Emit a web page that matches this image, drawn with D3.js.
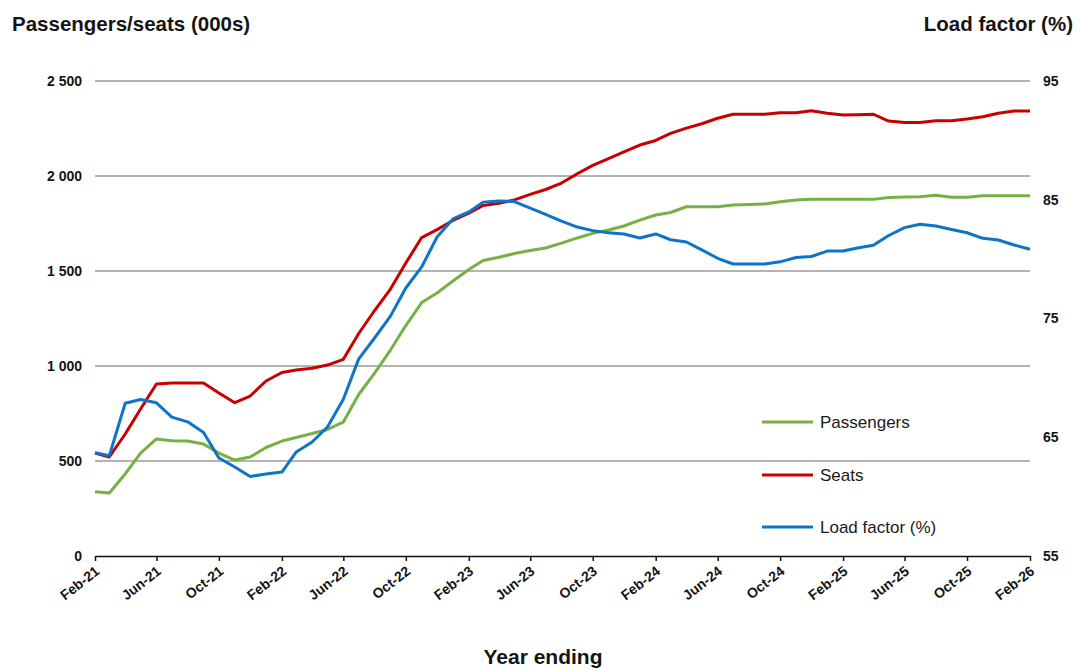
<!DOCTYPE html>
<html>
<head>
<meta charset="utf-8">
<script src="https://cdn.jsdelivr.net/npm/d3@7"></script>
<style>
  body { margin: 0; background: #fff; }
  svg { display: block; font-family: "Liberation Sans", Arial, sans-serif; }
</style>
</head>
<body>
<script>
'use strict';

// monthly, year ending Feb-21 .. Feb-26
let tickLabels = ['Feb-21', 'Jun-21', 'Oct-21', 'Feb-22', 'Jun-22', 'Oct-22', 'Feb-23', 'Jun-23',
    'Oct-23', 'Feb-24', 'Jun-24', 'Oct-24', 'Feb-25', 'Jun-25', 'Oct-25', 'Feb-26'];

let passengers = [338, 332, 432, 542, 616, 607, 605, 589, 542, 505, 521, 571, 605, 624, 645, 666,
    705, 850, 963, 1084, 1213, 1334, 1384, 1447, 1508, 1555, 1572, 1592, 1608, 1621, 1647, 1674,
    1698, 1716, 1737, 1768, 1795, 1808, 1838, 1838, 1838, 1847, 1850, 1853, 1864, 1874, 1877, 1877,
    1877, 1877, 1877, 1887, 1889, 1891, 1899, 1888, 1888, 1896, 1896, 1896, 1896];

let seats = [542, 521, 642, 774, 905, 910, 910, 910, 858, 807, 842, 921, 966, 979, 988, 1005,
    1035, 1171, 1292, 1405, 1542, 1676, 1718, 1766, 1805, 1845, 1856, 1874, 1903, 1929, 1963, 2012,
    2056, 2092, 2127, 2163, 2187, 2224, 2252, 2275, 2304, 2325, 2325, 2325, 2333, 2333, 2343, 2330,
    2321, 2323, 2325, 2289, 2281, 2281, 2291, 2291, 2300, 2312, 2330, 2342, 2342];

let loadFactor = [63.7, 63.45, 67.86, 68.18, 67.9, 66.7, 66.3, 65.4, 63.25, 62.5, 61.7, 61.9, 62.07, 63.76, 64.6, 65.86,
    68.2, 71.6, 73.36, 75.2, 77.57, 79.34, 81.86, 83.38, 83.97, 84.8, 84.9, 84.85, 84.3, 83.76, 83.2, 82.7,
    82.4, 82.23, 82.12, 81.78, 82.12, 81.63, 81.44, 80.78, 80.07, 79.59, 79.59, 79.59, 79.77, 80.14, 80.22, 80.68,
    80.68, 80.94, 81.16, 81.99, 82.65, 82.93, 82.79, 82.49, 82.22, 81.75, 81.61, 81.19, 80.83];

let leftTicks = [0, 500, 1000, 1500, 2000, 2500];
let rightTicks = [55, 65, 75, 85, 95];

let months = d3.timeMonth.range(new Date(2021, 1, 1), new Date(2026, 2, 1));
let tickDates = months.filter((d, i) => i % 4 === 0);

let plot = { left: 95, right: 1030, top: 81, bottom: 556 };
let svgContainer = '';

window.onload = function() {
    svgContainer = d3.select('body')
        .append('svg')
        .attr('width', 1081)
        .attr('height', 668);

    makeGraph();
}

function makeGraph() {
    let map = drawAxes(svgContainer);

    plotLine(map, passengers, map.yScale, '#77b043');
    plotLine(map, seats, map.yScale, '#c80000');
    plotLine(map, loadFactor, map.y2Scale, '#0f74c8');

    makeLegend(svgContainer);
    makeLabels(svgContainer);
}

function plotLine(map, values, yScale, colour) {
    let line = d3.line()
        .x((d, i) => map.xScale(months[i]))
        .y((d) => yScale(d));

    svgContainer.append('path')
        .datum(values)
        .attr('d', line)
        .attr('fill', 'none')
        .attr('stroke', colour)
        .attr('stroke-width', 3)
        .attr('stroke-linejoin', 'round');
}

function drawAxes(svg) {
    let xScale = d3.scaleTime()
        .domain([months[0], months[months.length - 1]])
        .range([plot.left, plot.right]);

    let yScale = d3.scaleLinear()
        .domain([0, 2500])
        .range([plot.bottom, plot.top]);

    let y2Scale = d3.scaleLinear()
        .domain([55, 95])
        .range([plot.bottom, plot.top]);

    // gridlines
    svg.append('g')
        .selectAll('line')
        .data(leftTicks.slice(1))
        .enter()
        .append('line')
            .attr('x1', plot.left)
            .attr('x2', plot.right)
            .attr('y1', (d) => yScale(d))
            .attr('y2', (d) => yScale(d))
            .attr('stroke', '#9a9a9a')
            .attr('stroke-width', 1.5);

    let yAxis = d3.axisLeft(yScale)
        .tickValues(leftTicks)
        .tickSize(0)
        .tickPadding(13)
        .tickFormat((d) => d3.format(',')(d).replace(',', ' '));
    let gy = svg.append('g')
        .attr('transform', 'translate(' + plot.left + ', 0)')
        .call(yAxis);
    gy.select('.domain').remove();

    let y2Axis = d3.axisRight(y2Scale)
        .tickValues(rightTicks)
        .tickSize(0)
        .tickPadding(13);
    let gy2 = svg.append('g')
        .attr('transform', 'translate(' + plot.right + ', 0)')
        .call(y2Axis);
    gy2.select('.domain').remove();

    let xAxis = d3.axisBottom(xScale)
        .tickValues(tickDates)
        .tickSize(5)
        .tickSizeOuter(0)
        .tickFormat((d, i) => tickLabels[i]);
    let gx = svg.append('g')
        .attr('transform', 'translate(0, ' + plot.bottom + ')')
        .call(xAxis);
    gx.select('.domain').attr('stroke', '#111').attr('stroke-width', 1.5);
    gx.selectAll('.tick line').attr('stroke', '#111').attr('stroke-width', 1.5);
    gx.selectAll('.tick text')
        .attr('x', null)
        .attr('y', null)
        .attr('dy', null)
        .attr('text-anchor', 'end')
        .attr('transform', 'translate(5, 17) rotate(-38)');

    svg.selectAll('.tick text')
        .attr('fill', '#151515')
        .style('font-family', '"Liberation Sans", Arial, sans-serif')
        .style('font-size', '14px')
        .style('font-weight', 'bold');

    return {
        xScale: xScale,
        yScale: yScale,
        y2Scale: y2Scale
    };
}

function makeLegend(svg) {
    let items = [
        { name: 'Passengers', colour: '#77b043', y: 422 },
        { name: 'Seats', colour: '#c80000', y: 475 },
        { name: 'Load factor (%)', colour: '#0f74c8', y: 527 }
    ];

    let g = svg.append('g');
    g.selectAll('line')
        .data(items)
        .enter()
        .append('line')
            .attr('x1', 762)
            .attr('x2', 813)
            .attr('y1', (d) => d.y)
            .attr('y2', (d) => d.y)
            .attr('stroke', (d) => d.colour)
            .attr('stroke-width', 3);

    g.selectAll('text')
        .data(items)
        .enter()
        .append('text')
            .attr('x', 820)
            .attr('y', (d) => d.y + 6)
            .style('font-size', '17px')
            .attr('fill', '#1a1a1a')
            .text((d) => d.name);
}

function makeLabels(svg) {
    svg.append('text')
        .attr('x', 12)
        .attr('y', 31)
        .style('font-size', '20.5px')
        .style('font-weight', 'bold')
        .attr('fill', '#151515')
        .text('Passengers/seats (000s)');

    svg.append('text')
        .attr('x', 1073)
        .attr('y', 31)
        .attr('text-anchor', 'end')
        .style('font-size', '20.5px')
        .style('font-weight', 'bold')
        .attr('fill', '#151515')
        .text('Load factor (%)');

    svg.append('text')
        .attr('x', 543)
        .attr('y', 664)
        .attr('text-anchor', 'middle')
        .style('font-size', '21px')
        .style('font-weight', 'bold')
        .attr('fill', '#151515')
        .text('Year ending');
}
</script>
</body>
</html>
